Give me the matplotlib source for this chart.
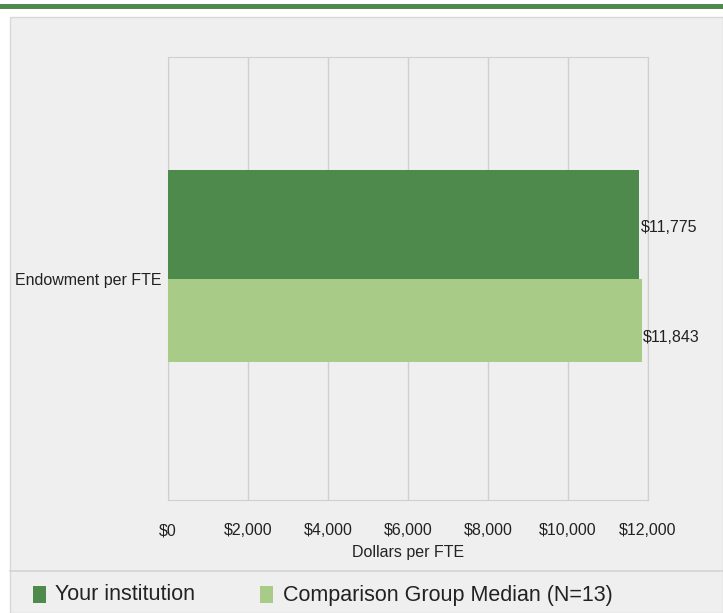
import matplotlib
matplotlib.use("Agg")
import matplotlib.pyplot as plt
from matplotlib.patches import Rectangle
from matplotlib.lines import Line2D

plt.rcParams['font.family'] = ['Liberation Sans Narrow', 'Liberation Sans', 'DejaVu Sans']

category = "Endowment per FTE"
series_names = ["Your institution", "Comparison Group Median (N=13)"]
values = [11775, 11843]
value_labels = ["$11,775", "$11,843"]
xticks = [0, 2000, 4000, 6000, 8000, 10000, 12000]
xtick_labels = ["$0", "$2,000", "$4,000", "$6,000", "$8,000", "$10,000", "$12,000"]
colors = ["#4e8a4b", "#a8cb88"]

W, H = 723, 613
fig = plt.figure(figsize=(W / 100, H / 100), dpi=100)
fig.patch.set_facecolor("white")

def fx(px):
    return px / W

def fy(py):
    return 1 - py / H

# top green stripe
fig.patches.append(Rectangle((0, fy(9)), 1, 5 / H, transform=fig.transFigure,
                             facecolor="#4e8a4b", edgecolor="none", zorder=-2))
# gray panel
fig.patches.append(Rectangle((fx(10), fy(613)), 1 - fx(10), (613 - 17) / H,
                             transform=fig.transFigure, facecolor="#efefef",
                             edgecolor="#d8d8d8", linewidth=1, zorder=-2))
# separator above legend
fig.lines.append(Line2D([fx(10), 1], [fy(571), fy(571)], transform=fig.transFigure,
                        color="#d4d4d4", linewidth=1.2, zorder=-1))

ax = fig.add_axes([fx(168), fy(500), fx(648) - fx(168), (500 - 57) / H])
ax.set_zorder(1)
ax.set_facecolor("#efefef")
ax.set_xlim(0, 12000)
ax.set_ylim(-1, 1)

tops = [0.49, 0.0]
heights = [0.49, 0.375]
label_y = [0.23, -0.265]
for v, t, h, c, lab, ly in zip(values, tops, heights, colors, value_labels, label_y):
    ax.barh(t - h, v, height=h, align="edge", color=c, zorder=3)
    ax.text(v + 40, ly, lab, va="center", ha="left", fontsize=11.5,
            color="#222222")

ax.set_xticks(xticks)
ax.set_xticklabels(xtick_labels, fontsize=11.5, color="#222222")
plt.setp(ax.get_xticklabels(), va="baseline")
ax.set_yticks([0])
ax.set_yticklabels([category], fontsize=11.5, color="#222222")
ax.tick_params(axis="x", length=0, pad=25.5)
ax.tick_params(axis="y", length=0, pad=5)
ax.grid(axis="x", color="#cfcfcf", linewidth=1, zorder=0)
for s in ["left", "top", "bottom", "right"]:
    ax.spines[s].set_color("#cfcfcf")
ax.set_xlabel("Dollars per FTE", fontsize=11.5, color="#222222", labelpad=5)

# legend
fig.patches.append(Rectangle((fx(33), fy(603)), 13 / W, 17 / H, transform=fig.transFigure,
                             facecolor=colors[0], edgecolor="none"))
fig.text(fx(55), fy(595), series_names[0], fontsize=15.5, va="center", ha="left",
         color="#222222")
fig.patches.append(Rectangle((fx(260), fy(603)), 13 / W, 17 / H, transform=fig.transFigure,
                             facecolor=colors[1], edgecolor="none"))
fig.text(fx(283), fy(595), series_names[1], fontsize=15.5, va="center", ha="left",
         color="#222222")

fig.savefig("out.png", dpi=100, facecolor=fig.get_facecolor())
